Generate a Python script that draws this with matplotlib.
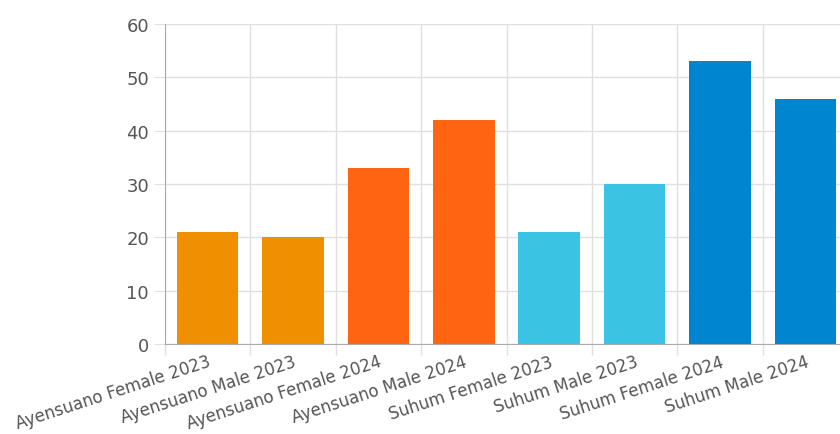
import matplotlib.pyplot as plt
import numpy as np

plt.rcParams["font.family"] = ["DejaVu Sans"]

categories = ["Ayensuano Female 2023", "Ayensuano Male 2023",
              "Ayensuano Female 2024", "Ayensuano Male 2024",
              "Suhum Female 2023", "Suhum Male 2023",
              "Suhum Female 2024", "Suhum Male 2024"]
values = [21, 20, 33, 42, 21, 30, 53, 46]
colors = ["#F09000", "#F09000", "#FF6410", "#FF6410",
          "#3AC3E3", "#3AC3E3", "#0085D0", "#0085D0"]

TEXT = "#555555"
GRID = "#E0E0E0"
AXIS = "#AAAAAA"

fig = plt.figure(figsize=(8.4, 4.35), dpi=100)
ax = fig.add_axes([165/840, 90/435, 683/840, 320/435])

x = np.arange(len(categories))
ax.bar(x, values, width=0.72, color=colors, zorder=3)

ax.set_xlim(-0.5, len(categories) - 0.5)
ax.set_ylim(0, 60)
ax.set_yticks(range(0, 61, 10))

# vertical grid at category boundaries
bounds = np.arange(len(categories) + 1) - 0.5
ax.set_xticks(bounds)
ax.set_xticklabels([])
ax.set_xticks(x, minor=True)
ax.set_xticklabels(categories, minor=True, rotation=18, ha="right",
                   rotation_mode="anchor", fontsize=12, color=TEXT)
ax.tick_params(axis="x", which="minor", length=0, pad=6)
ax.tick_params(axis="x", which="major", length=8, color=GRID, width=1)
ax.tick_params(axis="y", length=8, color=GRID, labelsize=13, labelcolor=TEXT)

ax.grid(True, which="major", color=GRID, linewidth=1, zorder=0)

for s in ["top", "right"]:
    ax.spines[s].set_visible(False)
ax.spines["left"].set_color(AXIS)
ax.spines["bottom"].set_color(AXIS)

plt.savefig("out.png", dpi=100)
